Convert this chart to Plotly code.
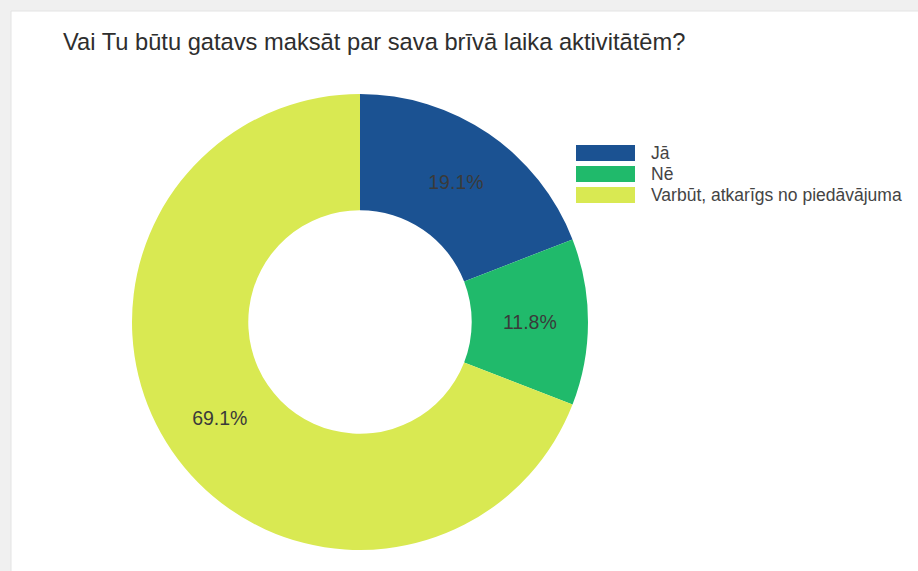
import plotly.graph_objects as go

title_text = "Vai Tu būtu gatavs maksāt par sava brīvā laika aktivitātēm?"
labels = ["Jā", "Nē", "Varbūt, atkarīgs no piedāvājuma"]
values = [19.1, 11.8, 69.1]
colors = ["#1b5292", "#20ba6b", "#d9e952"]

W, H = 918, 571

def px(x):
    return x / W

def py(y):
    return 1 - y / H

fig = go.Figure()
fig.add_trace(go.Pie(
    labels=labels,
    values=values,
    hole=0.49,
    sort=False,
    direction="clockwise",
    rotation=0,
    marker=dict(colors=colors, line=dict(width=0)),
    texttemplate="%{value:.1f}%",
    textposition="inside",
    insidetextorientation="horizontal",
    insidetextfont=dict(family="Arial, Liberation Sans", size=19.5, color="#3a3a3a"),
    domain=dict(x=[px(132), px(588)], y=[py(550), py(94)]),
    showlegend=False,
    hoverinfo="label+percent",
))

shapes = [
    # outer gray frame strips
    dict(type="rect", xref="paper", yref="paper", x0=0, x1=1, y0=py(11), y1=1,
         fillcolor="#f0f0f0", line=dict(width=0), layer="below"),
    dict(type="rect", xref="paper", yref="paper", x0=0, x1=px(11), y0=0, y1=1,
         fillcolor="#f0f0f0", line=dict(width=0), layer="below"),
    dict(type="line", xref="paper", yref="paper", x0=px(11), x1=1, y0=py(11), y1=py(11),
         line=dict(color="#e4e4e4", width=1), layer="below"),
    dict(type="line", xref="paper", yref="paper", x0=px(11), x1=px(11), y0=0, y1=py(11),
         line=dict(color="#e4e4e4", width=1), layer="below"),
]
annotations = [
    dict(text=title_text, xref="paper", yref="paper", x=px(61), y=py(42),
         xanchor="left", yanchor="middle", showarrow=False,
         font=dict(family="Arial, Liberation Sans", size=23.7, color="#2e2e2e")),
]
legend_tops = [145, 166, 187]
for lab, col, top in zip(labels, colors, legend_tops):
    shapes.append(dict(type="rect", xref="paper", yref="paper",
                       x0=px(576), x1=px(635), y0=py(top + 16), y1=py(top),
                       fillcolor=col, line=dict(width=0)))
    annotations.append(dict(text=lab, xref="paper", yref="paper", x=px(649), y=py(top + 8),
                            xanchor="left", yanchor="middle", showarrow=False,
                            font=dict(family="Arial, Liberation Sans", size=17.5, color="#444444")))

fig.update_layout(
    width=W, height=H,
    margin=dict(l=0, r=0, t=0, b=0),
    paper_bgcolor="white",
    plot_bgcolor="white",
    shapes=shapes,
    annotations=annotations,
)

fig.write_html("out.html", config={"displayModeBar": False},
               post_script="document.body.style.margin='0';document.body.style.overflow='hidden';")
